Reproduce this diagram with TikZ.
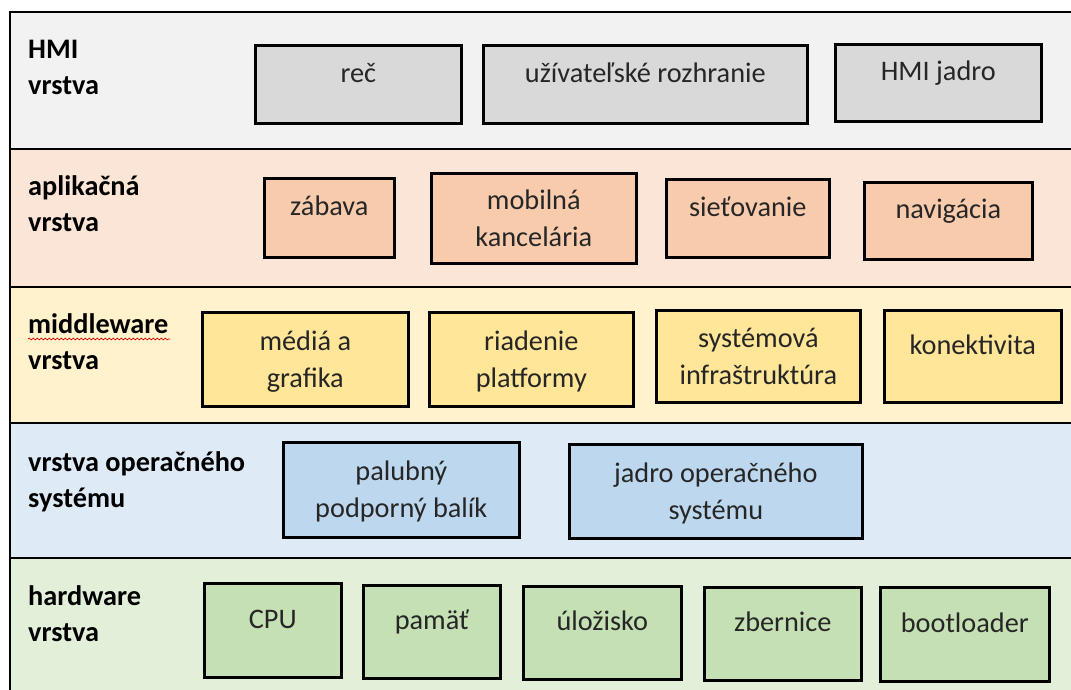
\documentclass[tikz,border=0pt]{standalone}
\usepackage{fontspec}
\setmainfont{Carlito}
\usetikzlibrary{decorations.pathmorphing}

% layer backgrounds and unit fills
\definecolor{hmiL}{HTML}{F2F2F2}\definecolor{hmiU}{HTML}{D9D9D9}
\definecolor{appL}{HTML}{FBE5D6}\definecolor{appU}{HTML}{F8CBAD}
\definecolor{mwL}{HTML}{FFF2CC}\definecolor{mwU}{HTML}{FFE699}
\definecolor{osL}{HTML}{DEEBF7}\definecolor{osU}{HTML}{BDD7EE}
\definecolor{hwL}{HTML}{E2F0D9}\definecolor{hwU}{HTML}{C5E0B4}
\definecolor{unitText}{HTML}{262626}

\tikzset{
  layer/.style={draw=black, line width=2.2pt, anchor=north west, inner sep=0pt,
    minimum width=1100pt},
  unit/.style={draw=black, line width=2.6pt, anchor=north west, inner sep=0pt},
  utext/.style={anchor=base, text=unitText, inner sep=0pt,
    font=\fontsize{28.3}{37}\selectfont},
  ltext/.style={anchor=base west, inner sep=0pt,
    font=\bfseries\fontsize{28.3}{36}\selectfont},
}

% two stacked lines, first baseline aligned with the node's base
\newcommand\twolines[2]{\begin{tabular}[t]{@{}c@{}}#1\\#2\end{tabular}}

% unit box from (x1,y1) to (x2,y2)
\newcommand\unitbox[6]{%
  \pgfmathsetmacro\uw{#4-#2}\pgfmathsetmacro\uh{#5-#3}%
  \node[unit, fill=#6, minimum width=\uw pt, minimum height=\uh pt] (#1) at (#2,#3) {};}
\newcommand\oneline[2]{\node[utext] (#1-t) at ([yshift=2pt]#1.center) {#2};}
\newcommand\twoline[3]{\node[utext] (#1-t) at ([yshift=9pt]#1.center) {\twolines{#2}{#3}};}

\begin{document}
\begin{tikzpicture}[x=1pt, y=-1pt]
  \useasboundingbox (0,0) rectangle (1071,689);
  \fill[white] (0,0) rectangle (1071,689);
  \clip (0,0) rectangle (1071,689);

  % layers
  \node[layer, fill=hmiL, minimum height=137pt] (hmiLayer) at (9,11) {};
  \node[layer, fill=appL, minimum height=138pt] (appLayer) at (9,148) {};
  \node[layer, fill=mwL,  minimum height=136pt] (mwLayer)  at (9,286) {};
  \node[layer, fill=osL,  minimum height=135pt] (osLayer)  at (9,422) {};
  \node[layer, fill=hwL,  minimum height=150pt] (hwLayer)  at (9,557) {};

  % layer captions
  \node[ltext] (hmiLbl) at (28,58)  {\begin{tabular}[t]{@{}l@{}}HMI\\vrstva\end{tabular}};
  \node[ltext] (appLbl) at (28,195) {\begin{tabular}[t]{@{}l@{}}aplikačná\\vrstva\end{tabular}};
  \node[ltext] (mwLbl)  at (28,333) {\begin{tabular}[t]{@{}l@{}}middleware\\vrstva\end{tabular}};
  \node[ltext] (osLbl)  at (28,471) {\begin{tabular}[t]{@{}l@{}}vrstva operačného\\systému\end{tabular}};
  \node[ltext] (hwLbl)  at (28,605) {\begin{tabular}[t]{@{}l@{}}hardware\\vrstva\end{tabular}};
  \draw[red!85!black, line width=0.7pt, decorate,
        decoration={snake, amplitude=0.9pt, segment length=4pt}]
        ([yshift=-6pt]mwLbl.base west) -- ++(142,0);

  % HMI layer
  \unitbox{rec}{254}{44}{460}{122}{hmiU}   \oneline{rec}{reč}
  \unitbox{ui}{482}{44}{806}{122}{hmiU}    \oneline{ui}{užívateľské rozhranie}
  \unitbox{hmij}{834}{43}{1040}{120}{hmiU} \oneline{hmij}{HMI jadro}

  % application layer
  \unitbox{zab}{263}{177}{393}{256}{appU}  \oneline{zab}{zábava}
  \unitbox{mob}{430}{172}{635}{262}{appU}  \twoline{mob}{mobilná}{kancelária}
  \unitbox{siet}{665}{178}{828}{256}{appU} \oneline{siet}{sieťovanie}
  \unitbox{nav}{863}{181}{1031}{258}{appU} \oneline{nav}{navigácia}

  % middleware layer
  \unitbox{med}{201}{311}{407}{405}{mwU}   \twoline{med}{médiá a}{grafika}
  \unitbox{riad}{428}{311}{632}{405}{mwU}  \twoline{riad}{riadenie}{platformy}
  \unitbox{sys}{655}{309}{859}{401}{mwU}   \twoline{sys}{systémová}{infraštruktúra}
  \unitbox{kon}{883}{309}{1060}{401}{mwU}  \oneline{kon}{konektivita}

  % operating system layer
  \unitbox{bsp}{282}{441}{518}{536}{osU}   \twoline{bsp}{palubný}{podporný balík}
  \unitbox{kern}{568}{443}{861}{537}{osU}  \twoline{kern}{jadro operačného}{systému}

  % hardware layer
  \unitbox{cpu}{203}{582}{340}{676}{hwU}   \oneline{cpu}{CPU}
  \unitbox{mem}{362}{584}{499}{677}{hwU}   \oneline{mem}{pamäť}
  \unitbox{stor}{522}{585}{680}{678}{hwU}  \oneline{stor}{úložisko}
  \unitbox{bus}{703}{586}{860}{679}{hwU}   \oneline{bus}{zbernice}
  \unitbox{boot}{879}{586}{1048}{680}{hwU} \oneline{boot}{bootloader}
\end{tikzpicture}
\end{document}
